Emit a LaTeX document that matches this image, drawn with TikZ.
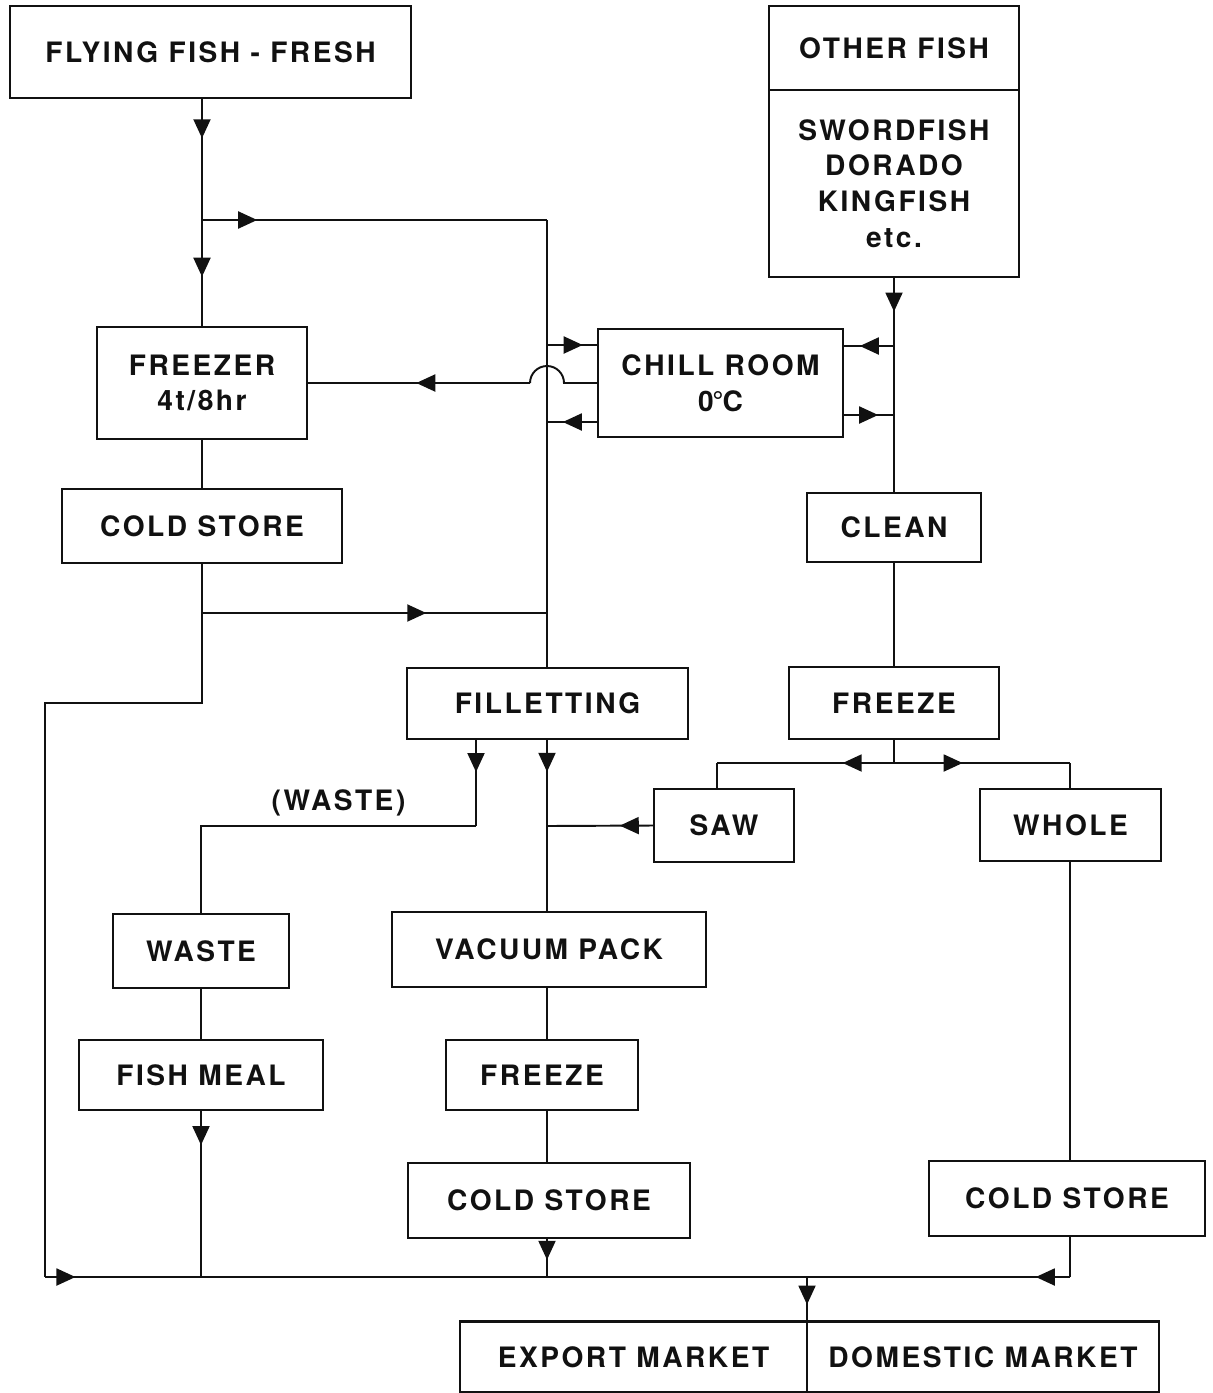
\documentclass[tikz,border=0pt]{standalone}
\usepackage{fontspec}
\setmainfont[LetterSpace=9]{TeX Gyre Heros}
\usepackage{xcolor}
\usetikzlibrary{arrows.meta,decorations.markings}
\definecolor{inkmain}{HTML}{111111}
\tikzset{every node/.append style={font=\bfseries\fontsize{16}{20.4}\selectfont,text=inkmain}}
\tikzset{
  box/.style={draw=inkmain,line width=1.5pt,inner sep=0pt,outer sep=0pt,align=center},
  line/.style={draw=inkmain,line width=1.1pt},
  flow/.style={postaction={decorate,decoration={markings,
      mark=at position #1 with {\arrow{Triangle[length=3.8mm,width=3.4mm]}}}}}
}

\begin{document}
\begin{tikzpicture}[x=0.02cm,y=-0.02cm]
  \useasboundingbox (0,0) rectangle (1213,1393);
  % sources
  \node[box,minimum width=8.02cm,minimum height=1.84cm] (ff) at (210.5,52) {FLYING FISH - FRESH};
  \node[box,minimum width=5cm,minimum height=1.68cm] (of) at (894,48) {OTHER FISH};
  \node[box,minimum width=5cm,minimum height=3.74cm] (ofl) at (894,183.5) {SWORDFISH\\DORADO\\KINGFISH\\etc.};
  % storage
  \node[box,minimum width=4.2cm,minimum height=2.24cm] (fz) at (202,383) {FREEZER\\4t/8hr};
  \node[box,minimum width=4.9cm,minimum height=2.16cm] (cr) at (720.5,383) {CHILL ROOM\\0\kern-0.8pt°\kern-0.6pt C};
  \node[box,minimum width=5.6cm,minimum height=1.48cm] (cs1) at (202,526) {COLD STORE};
  \node[box,minimum width=3.48cm,minimum height=1.38cm] (cl) at (894,527.5) {CLEAN};
  % processing
  \node[box,minimum width=5.62cm,minimum height=1.42cm] (fl) at (547.5,703.5) {FILLETTING};
  \node[box,minimum width=4.2cm,minimum height=1.44cm] (frz1) at (894,703) {FREEZE};
  \node[box,minimum width=2.8cm,minimum height=1.46cm] (saw) at (724,825.5) {SAW};
  \node[box,minimum width=3.62cm,minimum height=1.44cm] (wh) at (1070.5,825) {WHOLE};
  \node[box,minimum width=3.52cm,minimum height=1.48cm] (ws) at (201,951) {WASTE};
  \node[box,minimum width=6.28cm,minimum height=1.5cm] (vp) at (549,949.5) {VACUUM PACK};
  \node[box,minimum width=4.88cm,minimum height=1.4cm] (fm) at (201,1075) {FISH MEAL};
  \node[box,minimum width=3.84cm,minimum height=1.4cm] (frz2) at (542,1075) {FREEZE};
  \node[box,minimum width=5.64cm,minimum height=1.5cm] (cs2) at (549,1200.5) {COLD STORE};
  \node[box,minimum width=5.52cm,minimum height=1.5cm] (cs3) at (1067,1198.5) {COLD STORE};
  % markets
  \node[box,minimum width=6.94cm,minimum height=1.42cm] (em) at (633.5,1357) {EXPORT MARKET};
  \node[box,minimum width=7.04cm,minimum height=1.42cm,anchor=west] (dm) at (em.east) {DOMESTIC MARKET};

  % junctions
  \coordinate (j1) at (202,220);
  \coordinate (j2) at (547,220);
  \coordinate (cin) at (547,345);
  \coordinate (cout) at (547,422);
  \coordinate (hopr) at (564,383);
  \coordinate (hopl) at (530,383);
  \coordinate (rin) at (894,346);
  \coordinate (rout) at (894,415);
  \coordinate (k1) at (202,613);
  \coordinate (k2) at (547,613);
  \coordinate (k3) at (202,703);
  \coordinate (k4) at (45,703);
  \coordinate (b0) at (45,1277);
  \coordinate (bm) at (807,1277);
  \coordinate (b3) at (1070,1277);
  \coordinate (w1) at (476,826);
  \coordinate (w2) at (201,826);
  \coordinate (s1) at (547,826);
  \coordinate (f1) at (894,763);
  \coordinate (f2) at (717,763);
  \coordinate (f3) at (1070,763);

  % flying fish line
  \draw[line,flow=0.33] (j1 |- ff.south) -- (j1);
  \draw[line,flow=0.53] (j1) -- (fz.north);
  \draw[line,flow=0.16] (j1) -- (j2);
  \draw[line] (j2) -- (j2 |- fl.north);
  \draw[line,flow=0.7] (cin) -- (cr.west |- cin);
  \draw[line,flow=0.69] (cr.west |- cout) -- (cout);
  \draw[line] (cr.west) -- (hopr) arc[start angle=0,end angle=-180,radius=17];
  \draw[line,flow=0.51] (hopl) -- (fz.east);
  \draw[line] (fz) -- (cs1);
  \draw[line] (cs1.south) -- (k3) -- (k4) -- (b0);
  \draw[line,flow=0.65] (k1) -- (k2);

  % other fish line
  \draw[line,flow=0.16] (ofl.south) -- (cl.north);
  \draw[line,flow=0.67] (rin) -- (cr.east |- rin);
  \draw[line,flow=0.69] (cr.east |- rout) -- (rout);
  \draw[line] (cl) -- (frz1);
  \draw[line] (frz1.south) -- (f1);
  \draw[line,flow=0.29] (f1) -- (f2);
  \draw[line] (f2) -- (saw.north -| f2);
  \draw[line,flow=0.39] (f1) -- (f3);
  \draw[line] (f3) -- (wh.north -| f3);
  \draw[line] (wh.south -| f3) -- (cs3.north -| f3);

  % filletting
  \draw[line,flow=0.38] (fl.south -| w1) -- (w1);
  \draw[line] (w1) -- (w2) node[midway,above=2pt] (wl) {(WASTE)} -- (ws.north);
  \draw[line,flow=0.19] (fl.south -| s1) -- (vp.north -| s1);
  \draw[line,flow=0.32] (saw.west) -- (s1);
  \draw[line] (ws) -- (fm);
  \draw[line] (vp.south -| s1) -- (frz2.north -| s1);
  \draw[line] (frz2.south -| s1) -- (cs2.north -| s1);

  % to market
  \draw[line,flow=0.04] (b0) -- (bm);
  \draw[line] (b3 |- cs3.south) -- (b3);
  \draw[line,flow=0.13] (b3) -- (bm);
  \draw[line,flow=0.21] (fm.south) -- (fm.south |- b0);
  \draw[line,flow=0.56] (cs2.south -| s1) -- (s1 |- b0);
  \draw[line,flow=0.62] (bm) -- (bm |- em.north);
\end{tikzpicture}
\end{document}
